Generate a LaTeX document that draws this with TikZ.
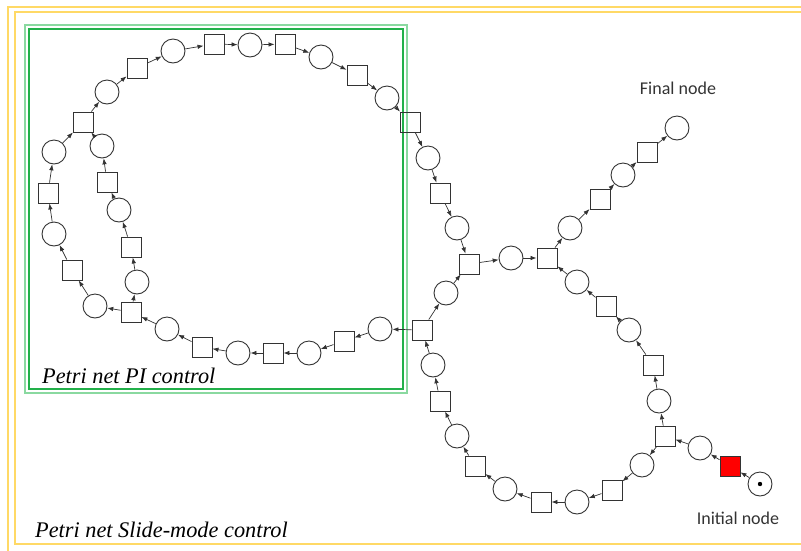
\documentclass[tikz,border=0pt]{standalone}
\usepackage{fontspec}
\setmainfont{Liberation Serif}
\newfontfamily\notefont{Carlito}
\usetikzlibrary{arrows.meta}
\definecolor{inkline}{HTML}{333333}
\definecolor{frameyellow}{HTML}{FFD966}
\definecolor{greenlight}{HTML}{8AD9A0}
\definecolor{greendark}{HTML}{22B04A}
\definecolor{firered}{HTML}{FF0000}
\newcommand{\place}[3]{%
  \node[draw=inkline, line width=0.9pt, circle, minimum size=24pt,
        inner sep=0pt] (#1) at (#2,#3) {};}
\newcommand{\trans}[4][none]{%
  \node[draw=inkline, line width=0.9pt, fill=#1, minimum size=20pt,
        inner sep=0pt] (#2) at (#3,#4) {};}

\begin{document}
\begin{tikzpicture}[x=1pt, y=-1pt]
      \useasboundingbox (0,0) rectangle (801,550);
      % frames
      \draw[frameyellow, line width=1.5pt] (8,7) rectangle (830,570);
      \draw[frameyellow, line width=1.5pt] (15,12) rectangle (830,544);
      \draw[greenlight, line width=2pt] (25,25) rectangle (407,393);
      \draw[greendark, line width=1.3pt] (29,29) rectangle (403,389);
      % PI loop, outer part
      \trans{tA1}{83}{122}
      \place{pA1}{107}{92}
      \trans{tA2}{137}{68}
      \place{pA2}{173}{51}
      \trans{tA3}{214}{44}
      \place{pA3}{250}{45}
      \trans{tA4}{285}{44}
      \place{pA4}{321}{57}
      \trans{tA5}{357}{75}
      \place{pA5}{387}{98}
      \trans{tA6}{410}{122}
      \place{pA6}{428}{158}
      \trans{tA7}{440}{193}
      \place{pA7}{457}{228}
      \trans{tJ}{469}{264}
      \place{pJ}{511}{258}
      \trans{tF}{547}{258}
      % branch to the final node
      \place{pF1}{570}{228}
      \trans{tF1}{600}{199}
      \place{pF2}{623}{175}
      \trans{tF2}{647}{152}
      \place{pF3}{677}{128}
      % slide-mode loop
      \trans{tK}{665}{436}
      \place{pK1}{659}{401}
      \trans{tK1}{653}{365}
      \place{pK2}{629}{330}
      \trans{tK2}{606}{306}
      \place{pK3}{577}{282}
      \place{pL1}{642}{465}
      \trans{tL1}{612}{490}
      \place{pL2}{577}{502}
      \trans{tL2}{541}{502}
      \place{pL3}{505}{489}
      \trans{tL3}{475}{466}
      \place{pL4}{457}{436}
      \trans{tL4}{440}{401}
      \place{pL5}{433}{365}
      \trans{tM}{422}{330}
      \place{pM}{446}{293}
      % PI loop, lower part
      \place{pB1}{380}{329}
      \trans{tB1}{344}{341}
      \place{pB2}{309}{353}
      \trans{tB2}{273}{353}
      \place{pB3}{238}{353}
      \trans{tB3}{202}{347}
      \place{pB4}{167}{329}
      \trans{tB4}{131}{312}
      \place{pB5}{95}{306}
      \trans{tB5}{72}{270}
      \place{pB6}{54}{234}
      \trans{tB6}{48}{193}
      \place{pB7}{54}{152}
      % PI loop, inner part
      \place{pC1}{137}{282}
      \trans{tC1}{131}{247}
      \place{pC2}{119}{210}
      \trans{tC2}{107}{182}
      \place{pC3}{102}{146}
      % initial node
      \place{pI}{760}{484}
      \fill[black] (pI) circle (2.2pt);
      \trans[firered]{tI}{730}{466}
      \place{pI2}{700}{448}
      % arcs
      \foreach \from/\to in {tA1/pA1, pA1/tA2, tA2/pA2, pA2/tA3, tA3/pA3,
          pA3/tA4, tA4/pA4, pA4/tA5, tA5/pA5, pA5/tA6, tA6/pA6, pA6/tA7,
          tA7/pA7, pA7/tJ, tJ/pJ, pJ/tF, tF/pF1, pF1/tF1, tF1/pF2, pF2/tF2,
          tF2/pF3, tK/pK1, pK1/tK1, tK1/pK2, pK2/tK2, tK2/pK3, pK3/tF,
          tK/pL1, pL1/tL1, tL1/pL2, pL2/tL2, tL2/pL3, pL3/tL3, tL3/pL4,
          pL4/tL4, tL4/pL5, pL5/tM, tM/pM, pM/tJ, tM/pB1, pB1/tB1, tB1/pB2,
          pB2/tB2, tB2/pB3, pB3/tB3, tB3/pB4, pB4/tB4, tB4/pB5, pB5/tB5,
          tB5/pB6, pB6/tB6, tB6/pB7, pB7/tA1, tB4/pC1, pC1/tC1, tC1/pC2,
          pC2/tC2, tC2/pC3, pC3/tA1, pI/tI, tI/pI2, pI2/tK}
        \draw[-{Latex[length=6pt, width=4.5pt]}, inkline, line width=0.7pt]
          (\from) -- (\to);
      % labels
      \node[font=\notefont\fontsize{18}{20}\selectfont, text=inkline] (lfinal) at (678,88) {Final node};
      \node[font=\notefont\fontsize{18}{20}\selectfont, text=inkline] (linit) at (738,518) {Initial node};
      \node[font=\itshape\fontsize{22.3}{25}\selectfont, anchor=base west, inner sep=0pt] (lpi) at (42,383) {Petri net PI control};
      \node[font=\itshape\fontsize{22.3}{25}\selectfont, anchor=base west, inner sep=0pt] (lsm) at (35,537) {Petri net Slide-mode control};
    \end{tikzpicture}
\end{document}
